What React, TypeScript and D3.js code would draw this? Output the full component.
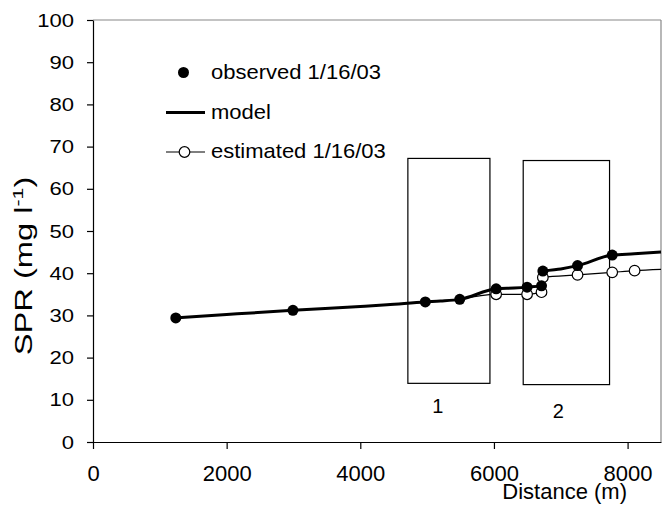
import * as d3 from 'd3';
import React, { useRef, useEffect } from 'react';

// observed SPR, 1/16/03
const obsX = [1239, 2992, 4973, 5488, 6033, 6496, 6712, 6732, 7251, 7770];
const obsY = [29.4, 31.2, 33.2, 33.8, 36.3, 36.7, 37.0, 40.5, 41.8, 44.3];

// model curve
const modelX = [1239, 2000, 2992, 4000, 4400, 4973, 5200, 5488, 6033, 6300, 6496, 6712, 6760, 7000, 7251, 7770, 8100, 8500];
const modelY = [29.4, 30.2, 31.2, 32.1, 32.5, 33.2, 33.4, 33.8, 36.3, 36.5, 36.7, 37.0, 40.5, 41.0, 41.8, 44.3, 44.6, 45.0];

// estimated SPR
const estLineX = [5488, 6033, 6496, 6712, 6732, 7251, 7770, 8105, 8500];
const estLineY = [33.8, 35.0, 35.0, 35.5, 39.0, 39.6, 40.2, 40.6, 40.9];
const estPointX = [6033, 6496, 6712, 6732, 7251, 7770, 8105];
const estPointY = [35.0, 35.0, 35.5, 39.0, 39.6, 40.2, 40.6];

// reaches (boxes)
const boxLabels = ['1', '2'];
const boxX0 = [4712, 6438];
const boxX1 = [5940, 7730];
const boxY0 = [13.9, 13.6];
const boxY1 = [67.2, 66.7];

const xTicks = [0, 2000, 4000, 6000, 8000];
const yTicks = [0, 10, 20, 30, 40, 50, 60, 70, 80, 90, 100];

const W = 664;
const H = 506;
const FONT = '"Liberation Sans", Arial, sans-serif';

// horizontally stretched text, like the original export
function SText({ x, y, size, sx, anchor, children }) {
    return (
        <g transform={`translate(${x},${y}) scale(${sx},1)`}>
            <text x={0} y={0} fontFamily={FONT} fontSize={size} textAnchor={anchor || 'start'}>{children}</text>
        </g>
    );
}

function App() {
    const axRef = useRef(null);

    const x = d3.scaleLinear().domain([0, 8500]).range([93, 661]);
    const y = d3.scaleLinear().domain([0, 100]).range([442, 20]);

    useEffect(() => {
        const g = d3.select(axRef.current);
        g.selectAll('*').remove();

        const ax = g.append('g')
            .attr('transform', `translate(0,${y(0)})`)
            .call(d3.axisBottom(x).tickValues(xTicks).tickFormat(d3.format('d'))
                .tickSizeInner(7).tickSizeOuter(0).tickPadding(16));
        const ay = g.append('g')
            .attr('transform', `translate(${x(0)},0)`)
            .call(d3.axisLeft(y).tickValues(yTicks).tickSizeInner(6).tickSizeOuter(0).tickPadding(13));

        [ax, ay].forEach(a => {
            a.selectAll('path,line').attr('stroke', '#000').attr('stroke-width', 1.2);
            a.selectAll('text').attr('font-family', FONT).attr('fill', '#000');
        });
        ax.selectAll('text').attr('font-size', 22);
        ay.selectAll('text').attr('font-size', 19)
            .attr('x', -19 / 1.16)
            .attr('transform', 'scale(1.16,1)');
    }, []);

    const modelLine = d3.line().x(d => x(d[0])).y(d => y(d[1])).curve(d3.curveMonotoneX);
    const estLine = d3.line().x(d => x(d[0])).y(d => y(d[1])).curve(d3.curveMonotoneX);

    return (
        <div style={{ position: 'absolute', left: 0, top: 0 }}>
            <svg width={W} height={H} style={{ display: 'block', background: '#fff' }}>
                {/* frame */}
                <line x1={x(0)} x2={x(8500)} y1={y(100)} y2={y(100)} stroke="#888" strokeWidth={1.2} />
                <line x1={x(8500)} x2={x(8500)} y1={y(100)} y2={y(0)} stroke="#888" strokeWidth={1.2} />

                {boxLabels.map((lab, i) => (
                    <g key={lab}>
                        <rect x={x(boxX0[i])} y={y(boxY1[i])} width={x(boxX1[i]) - x(boxX0[i])}
                            height={y(boxY0[i]) - y(boxY1[i])} fill="none" stroke="#000" strokeWidth={1.2} />
                        <text x={(x(boxX0[i]) + x(boxX1[i])) / 2 - (i === 0 ? 11 : 8)} y={y(boxY0[i]) + (i === 0 ? 30 : 33)}
                            fontFamily={FONT} fontSize={20} textAnchor="middle">{lab}</text>
                    </g>
                ))}

                <path d={estLine(estLineX.map((v, i) => [v, estLineY[i]]))} fill="none" stroke="#000" strokeWidth={1.2} />
                <path d={modelLine(modelX.map((v, i) => [v, modelY[i]]))} fill="none" stroke="#000" strokeWidth={3} />

                {estPointX.map((v, i) => (
                    <circle key={'e' + i} cx={x(v)} cy={y(estPointY[i])} r={5.3} fill="#fff" stroke="#000" strokeWidth={1.2} />
                ))}
                {obsX.map((v, i) => (
                    <circle key={'o' + i} cx={x(v)} cy={y(obsY[i])} r={5.5} fill="#000" />
                ))}

                <g ref={axRef} />

                {/* legend */}
                <circle cx={183.5} cy={72.5} r={5.5} fill="#000" />
                <SText x={211} y={79} size={20} sx={1.1}>observed 1/16/03</SText>
                <line x1={166} x2={205} y1={112.5} y2={112.5} stroke="#000" strokeWidth={3} />
                <SText x={211} y={119} size={20} sx={1.1}>model</SText>
                <line x1={166} x2={205} y1={152} y2={152} stroke="#000" strokeWidth={1.2} />
                <circle cx={184.5} cy={152} r={5.3} fill="#fff" stroke="#000" strokeWidth={1.2} />
                <SText x={211} y={158} size={20} sx={1.1}>estimated 1/16/03</SText>

                {/* axis titles */}
                <text x={627} y={499} fontFamily={FONT} fontSize={22} textAnchor="end">Distance (m)</text>
                <g transform="translate(32,266) rotate(-90) scale(1.42,1)">
                    <text x={0} y={0} fontFamily={FONT} fontSize={23} textAnchor="middle">
                        SPR (mg l<tspan fontSize={15} dy={-9}>-1</tspan><tspan dy={9}>)</tspan>
                    </text>
                </g>
            </svg>
        </div>
    );
}

export default App;
